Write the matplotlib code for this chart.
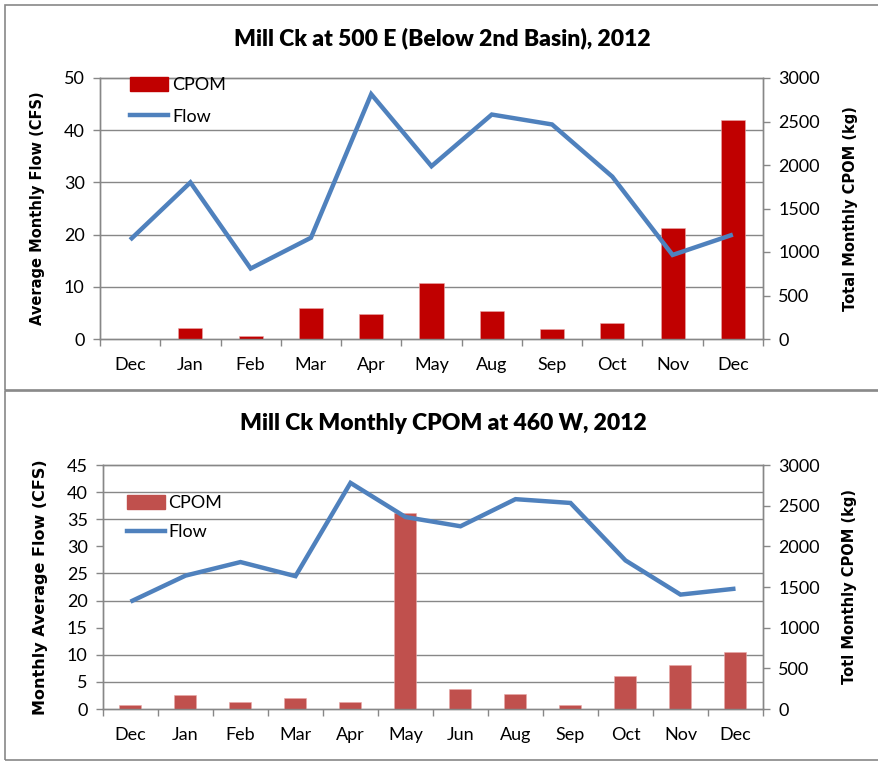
import numpy as np
import matplotlib
matplotlib.use('Agg')
import matplotlib.pyplot as plt
from matplotlib.patches import Patch, Rectangle
from matplotlib.lines import Line2D
from matplotlib.ticker import FixedLocator, NullFormatter

# ---- data ----
months_top = ['Dec', 'Jan', 'Feb', 'Mar', 'Apr', 'May', 'Aug', 'Sep', 'Oct', 'Nov', 'Dec']
flow_top = [19.0, 30.0, 13.5, 19.4, 46.9, 33.1, 43.0, 41.1, 31.1, 16.1, 20.0]
cpom_top = [5, 123, 38, 358, 285, 648, 326, 117, 188, 1277, 2514]

months_bot = ['Dec', 'Jan', 'Feb', 'Mar', 'Apr', 'May', 'Jun', 'Aug', 'Sep', 'Oct', 'Nov', 'Dec']
flow_bot = [19.8, 24.6, 27.1, 24.5, 41.7, 35.4, 33.7, 38.7, 38.0, 27.4, 21.1, 22.2]
cpom_bot = [45, 170, 85, 130, 85, 2415, 240, 185, 48, 402, 542, 700]

title_top = 'Mill Ck at 500 E (Below 2nd Basin), 2012'
title_bot = 'Mill Ck Monthly CPOM at 460 W, 2012'

line_col = '#4F81BD'
grid_col = '#878787'
txt_font = 'Lato'
lab_font = 'DejaVu Sans'


def panel(fig, rect, months, flow, cpom, flow_max, flow_step, bar_col,
          ylab_left, ylab_right, lab_size, leg_anchor, leg_space):
    ax2 = fig.add_axes(rect)          # CPOM bars (right scale), drawn underneath
    ax = ax2.twinx()                  # flow line (left scale), drawn on top
    ax.yaxis.tick_left()
    ax.yaxis.set_label_position('left')
    ax2.yaxis.tick_right()
    ax2.yaxis.set_label_position('right')
    ax.set_zorder(2)
    ax2.set_zorder(1)
    ax.patch.set_visible(False)

    x = np.arange(len(months))
    ax2.bar(x, cpom, width=0.4, color=bar_col, edgecolor='#e8a8a8',
            linewidth=0.4, zorder=3)
    ax.plot(x, flow, color=line_col, linewidth=3.2, solid_capstyle='butt',
            solid_joinstyle='miter', zorder=4)

    left_ticks = np.arange(0, flow_max + 0.1, flow_step)
    ax.set_ylim(0, flow_max)
    ax.set_yticks(left_ticks)
    ax2.set_ylim(0, 3000)
    ax2.set_yticks(np.arange(0, 3001, 500))
    # horizontal grid follows the left axis ticks, drawn behind the bars
    ax2.yaxis.set_minor_locator(FixedLocator(left_ticks / flow_max * 3000))
    ax2.grid(which='minor', axis='y', color=grid_col, linewidth=1.0, zorder=0)
    ax2.tick_params(axis='y', which='minor', length=0)

    for a in (ax, ax2):
        a.set_xlim(-0.5, len(months) - 0.5)
        for s in a.spines.values():
            s.set_color(grid_col)
            s.set_linewidth(1.0)
        a.tick_params(axis='y', colors=grid_col, labelcolor='black',
                      length=5, width=1, labelsize=13, pad=6)
        for lbl in a.get_yticklabels():
            lbl.set_fontfamily(txt_font)

    ax.set_xticks([])
    ax2.set_xticks(np.arange(-0.5, len(months)))
    ax2.xaxis.set_major_formatter(NullFormatter())
    ax2.set_xticks(x, minor=True)
    ax2.set_xticklabels(months, minor=True, fontfamily=txt_font, fontsize=13)
    ax2.tick_params(axis='x', which='major', colors=grid_col, length=5, width=1)
    ax2.tick_params(axis='x', which='minor', length=0, pad=13)

    ax.set_ylabel(ylab_left, fontfamily=lab_font, fontweight='bold', fontsize=lab_size)
    ax2.set_ylabel(ylab_right, fontfamily=lab_font, fontweight='bold', fontsize=10.5)
    ax.yaxis.set_label_coords(-0.083, 0.5)
    ax2.yaxis.set_label_coords(1.12, 0.5)

    handles = [Patch(color=bar_col), Line2D([], [], color=line_col, linewidth=3.2)]
    ax.legend(handles, ['CPOM', 'Flow'], loc='upper left', bbox_to_anchor=leg_anchor,
              frameon=False, prop={'family': txt_font, 'size': 13},
              handlelength=2.1, handleheight=0.75, handletextpad=0.2,
              labelspacing=leg_space, borderaxespad=0)
    return ax, ax2


def main():
    W, H = 879, 761
    fig = plt.figure(figsize=(W / 100, H / 100), dpi=100)

    # panel frames
    fig.add_artist(Rectangle((5 / W, 1 - 390 / H), (W - 4) / W, 385 / H,
                             transform=fig.transFigure, fill=False,
                             edgecolor=grid_col, linewidth=1.2))
    fig.add_artist(Rectangle((5 / W, 1 - 760 / H), (W - 4) / W, 369 / H,
                             transform=fig.transFigure, fill=False,
                             edgecolor=grid_col, linewidth=1.2))

    panel(fig, [100 / W, 1 - 339 / H, 663 / W, 261 / H],
          months_top, flow_top, cpom_top, 50, 10, '#C00000',
          'Average Monthly Flow (CFS)', 'Total Monthly CPOM (kg)', 10.5,
          (0.035, 1.03), 0.85)
    panel(fig, [103 / W, 1 - 709 / H, 660 / W, 244 / H],
          months_bot, flow_bot, cpom_bot, 45, 5, '#C0504D',
          'Monthly Average Flow (CFS)', 'Totl Monthly CPOM (kg)', 11.5,
          (0.025, 0.905), 0.7)

    fig.text(442 / W, 1 - 38 / H, title_top, ha='center', va='center',
             fontfamily=txt_font, fontweight='heavy', fontsize=16.5)
    fig.text(443 / W, 1 - 424 / H, title_bot, ha='center', va='center',
             fontfamily=txt_font, fontweight='heavy', fontsize=16.5)

    fig.savefig('out.png', dpi=100)
    plt.close(fig)


if __name__ == "__main__":
    main()
